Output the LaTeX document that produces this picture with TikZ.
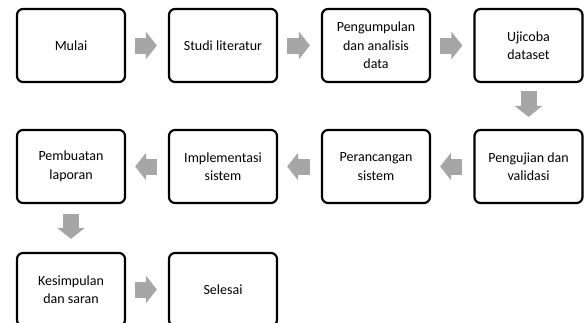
\documentclass[tikz,border=0pt]{standalone}
\usepackage{fontspec}
\setmainfont{Carlito}
\usetikzlibrary{arrows.meta}
\begin{document}
\begin{tikzpicture}[x=1pt,y=-1pt,
  stepbox/.style={draw=black, line width=2.2pt, rounded corners=6pt, minimum width=108pt, minimum height=73pt, align=center, font=\fontsize{14}{18.5}\selectfont, inner sep=2pt},
  blockarrow/.style={color=black!35, line width=16pt, -{Triangle[width=27pt,length=11pt]}}
]
\useasboundingbox (0,0) rectangle (584,322);
\node[stepbox] (mulai) at (71,45.5) {Mulai};
\node[stepbox] (studi) at (223,45.5) {Studi literatur};
\node[stepbox] (kump) at (376,45.5) {Pengumpulan\\dan analisis\\data};
\node[stepbox] (uji) at (528.5,45.5) {Ujicoba\\dataset};
\node[stepbox] (valid) at (528.5,166.5) {Pengujian dan\\validasi};
\node[stepbox] (ranc) at (376,166.5) {Perancangan\\sistem};
\node[stepbox] (impl) at (223,166.5) {Implementasi\\sistem};
\node[stepbox] (lap) at (71,166.5) {Pembuatan\\laporan};
\node[stepbox] (kes) at (71,289.5) {Kesimpulan\\dan saran};
\node[stepbox] (sel) at (223,289.5) {Selesai};
\draw[blockarrow, shorten <=9pt, shorten >=11pt] (mulai) -- (studi);
\draw[blockarrow, shorten <=9pt, shorten >=11pt] (studi) -- (kump);
\draw[blockarrow, shorten <=9pt, shorten >=11pt] (kump) -- (uji);
\draw[blockarrow, shorten <=8pt, shorten >=12pt] (uji) -- (valid);
\draw[blockarrow, shorten <=11pt, shorten >=9pt] (valid) -- (ranc);
\draw[blockarrow, shorten <=11pt, shorten >=9pt] (ranc) -- (impl);
\draw[blockarrow, shorten <=11pt, shorten >=9pt] (impl) -- (lap);
\draw[blockarrow, shorten <=10pt, shorten >=13pt] (lap) -- (kes);
\draw[blockarrow, shorten <=9pt, shorten >=11pt] (kes) -- (sel);
\end{tikzpicture}
\end{document}
